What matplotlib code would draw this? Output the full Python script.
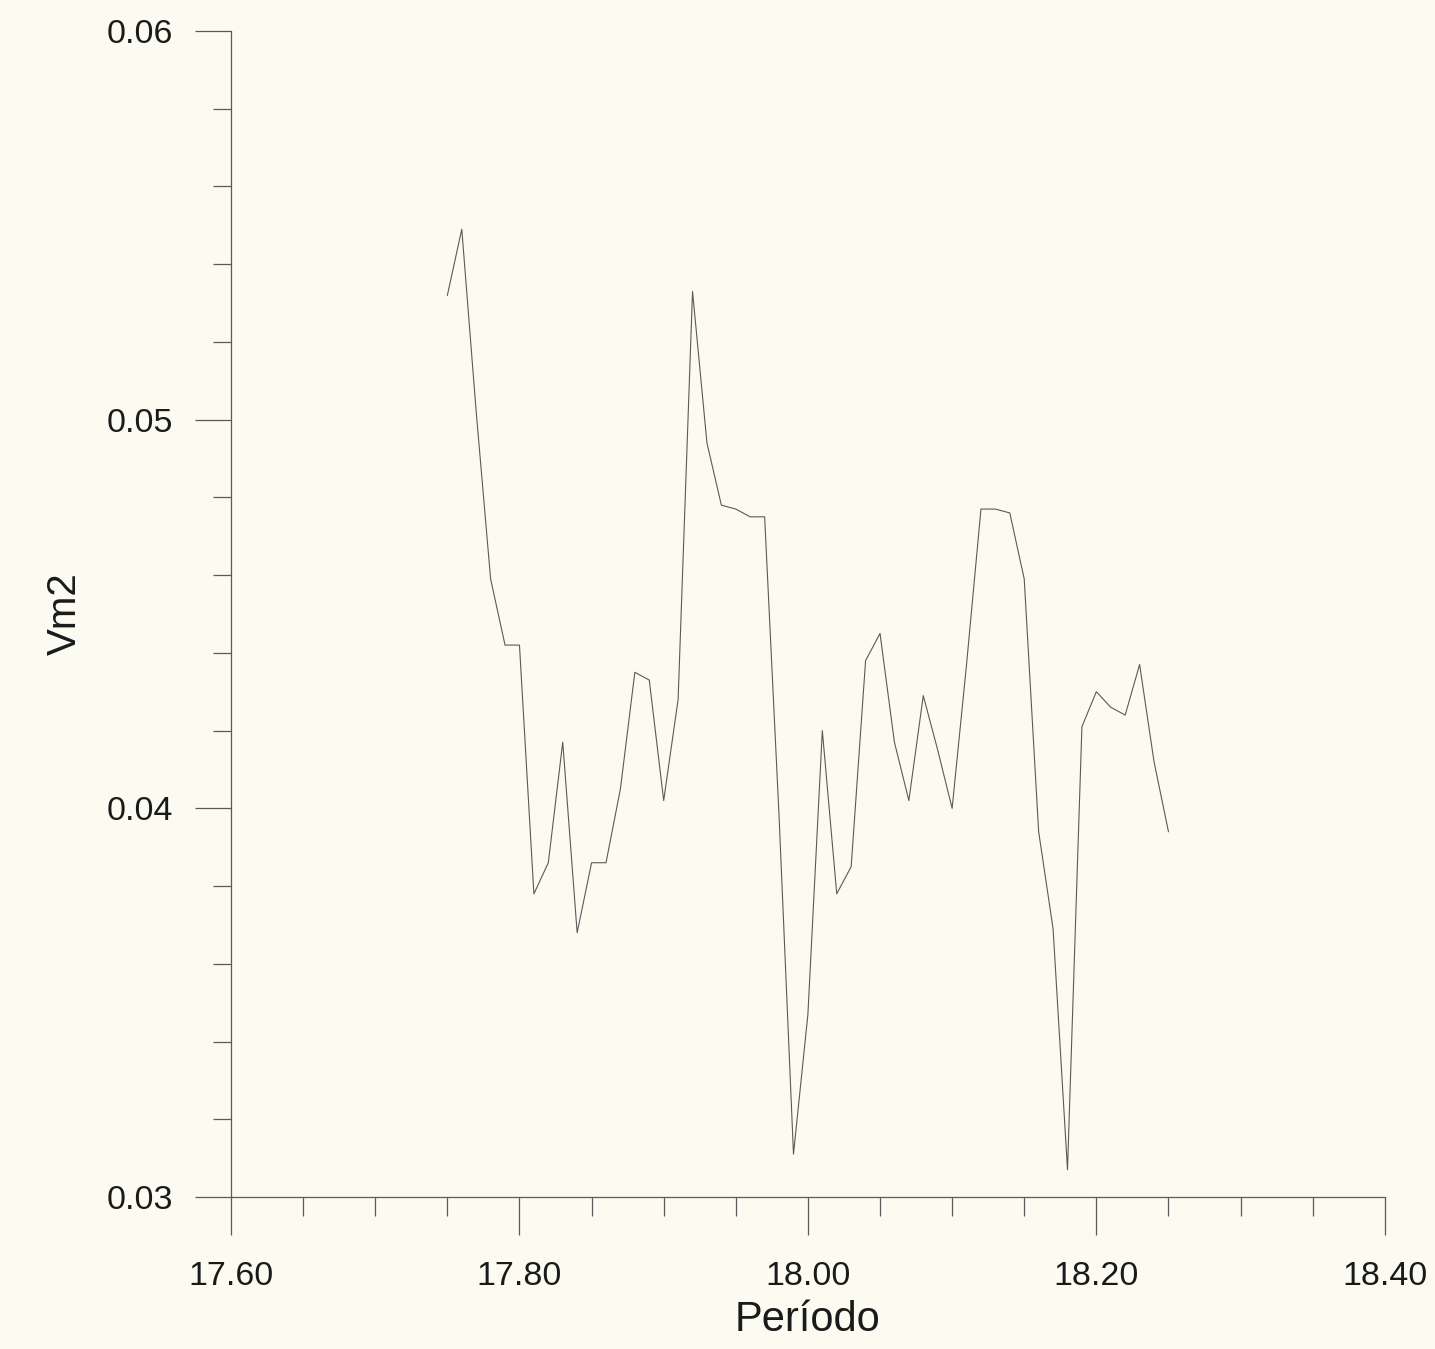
import matplotlib
matplotlib.use("Agg")
import matplotlib.pyplot as plt
from matplotlib.ticker import MultipleLocator, FormatStrFormatter

# periodo (x) y Vm2 (y)
periodo = [17.75, 17.76, 17.77, 17.78, 17.79, 17.80, 17.81, 17.82, 17.83, 17.84,
           17.85, 17.86, 17.87, 17.88, 17.89, 17.90, 17.91, 17.92, 17.93, 17.94,
           17.95, 17.96, 17.97, 17.98, 17.99, 18.00, 18.01, 18.02, 18.03, 18.04,
           18.05, 18.06, 18.07, 18.08, 18.09, 18.10, 18.11, 18.12, 18.13, 18.14,
           18.15, 18.16, 18.17, 18.18, 18.19, 18.20, 18.21, 18.22, 18.23, 18.24,
           18.25]
vm2 = [0.0532, 0.0549, 0.0502, 0.0459, 0.0442, 0.0442, 0.0378, 0.0386, 0.0417, 0.0368,
       0.0386, 0.0386, 0.0405, 0.0435, 0.0433, 0.0402, 0.0428, 0.0533, 0.0494, 0.0478,
       0.0477, 0.0475, 0.0475, 0.0398, 0.0311, 0.0347, 0.0420, 0.0378, 0.0385, 0.0438,
       0.0445, 0.0417, 0.0402, 0.0429, 0.0415, 0.0400, 0.0437, 0.0477, 0.0477, 0.0476,
       0.0459, 0.0394, 0.0369, 0.0307, 0.0421, 0.0430, 0.0426, 0.0424, 0.0437, 0.0412,
       0.0394]

x_ticks = [17.60, 17.80, 18.00, 18.20, 18.40]
y_ticks = [0.03, 0.04, 0.05, 0.06]

paper = "#fcfbf1"
ink = "#5a5a5a"

plt.rcParams["font.family"] = ["Liberation Sans", "DejaVu Sans"]

fig = plt.figure(figsize=(14.35, 13.49), dpi=100, facecolor=paper)
ax = fig.add_axes([0.161, 0.1127, 0.804, 0.8643])
ax.set_facecolor(paper)

ax.plot(periodo, vm2, color=ink, linewidth=0.8)

ax.set_xlim(17.60, 18.40)
ax.set_ylim(0.03, 0.06)
ax.set_xticks(x_ticks)
ax.set_yticks(y_ticks)
ax.xaxis.set_minor_locator(MultipleLocator(0.05))
ax.yaxis.set_minor_locator(MultipleLocator(0.002))
ax.xaxis.set_major_formatter(FormatStrFormatter("%.2f"))
ax.yaxis.set_major_formatter(FormatStrFormatter("%g"))

for side in ["top", "right"]:
    ax.spines[side].set_visible(False)
for side in ["left", "bottom"]:
    ax.spines[side].set_color(ink)
    ax.spines[side].set_linewidth(0.9)

ax.tick_params(axis="y", which="major", direction="out", length=26, width=0.9,
               color=ink, labelsize=24.5, pad=16, labelcolor="#1a1a1a")
ax.tick_params(axis="y", which="minor", direction="out", length=13, width=0.9, color=ink)
ax.tick_params(axis="x", which="major", direction="out", length=27, width=0.9,
               color=ink, labelsize=24.5, pad=19, labelcolor="#1a1a1a")
ax.tick_params(axis="x", which="minor", direction="out", length=14, width=0.9, color=ink)

ax.set_xlabel("Período", fontsize=30, color="#1a1a1a", labelpad=6)
ax.set_ylabel("Vm2", fontsize=29, color="#1a1a1a", labelpad=16)

plt.savefig("out.png", dpi=100, facecolor=paper)
